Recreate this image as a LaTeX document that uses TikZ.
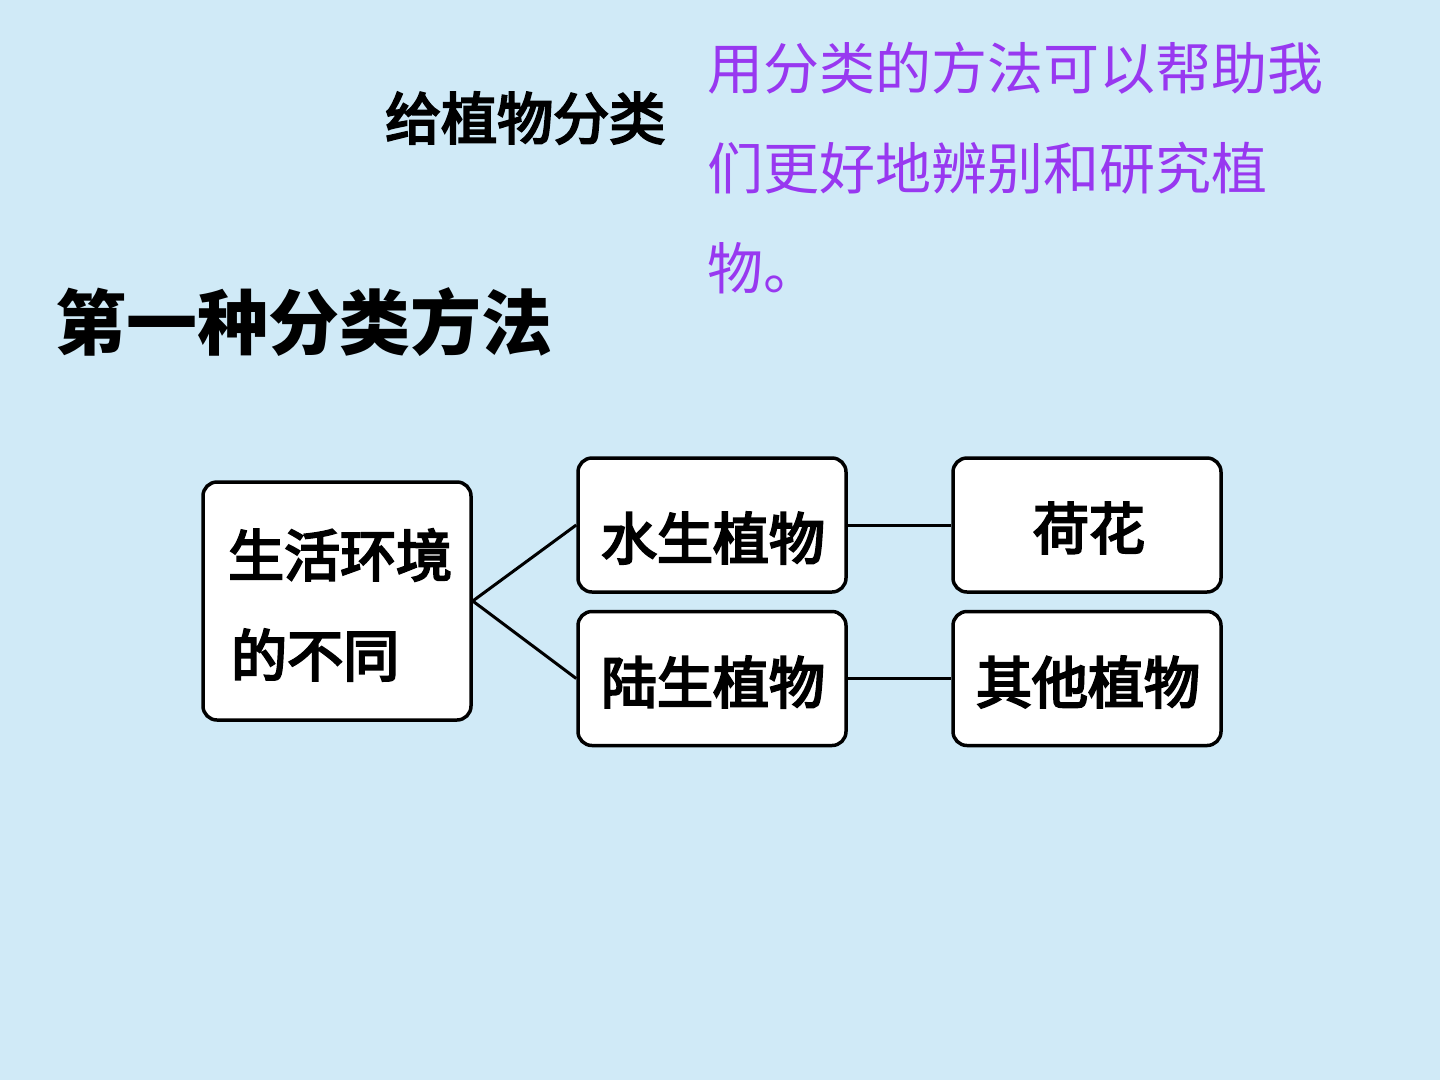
\documentclass[tikz,border=0pt]{standalone}
\usepackage{fontspec}
\setmainfont{Noto Sans CJK SC}
\newfontfamily\medfont{Noto Sans CJK SC}[FakeBold=4]
\definecolor{bgblue}{RGB}{208,234,247}
\definecolor{txtpurple}{RGB}{152,56,240}
\tikzset{
  box/.style={draw=black, line width=3.5pt, fill=white, rounded corners=14pt, inner sep=0pt, minimum width=268pt, minimum height=134pt},
  boxtext/.style={inner sep=0pt, font=\fontsize{56}{60}\medfont, text=black},
  link/.style={draw=black, line width=3pt},
  purple/.style={inner sep=0pt, anchor=west, font=\fontsize{56}{60}\selectfont, text=txtpurple}
}
\begin{document}
\begin{tikzpicture}[x=1pt,y=-1pt]
\fill[bgblue] (0,0) rectangle (1440,1080);
\useasboundingbox (0,0) rectangle (1440,1080);
% titles
\node[inner sep=0pt, anchor=west, font=\fontsize{56}{60}\medfont] (title) at (385,118) {给植物分类};
\node[purple] (p1) at (707,68) {用分类的方法可以帮助我};
\node[purple] (p2) at (707,168) {们更好地辨别和研究植};
\node[purple] (p3) at (707,268) {物。};
\node[inner sep=0pt, anchor=west, font=\fontsize{71}{76}\selectfont\bfseries] (method) at (55,322) {第一种分类方法};
% boxes
\node[box, minimum height=238pt] (env) at (337,601) {};
\node[box] (water) at (712,525) {};
\node[box] (land) at (712,678.5) {};
\node[box] (lotus) at (1087,525) {};
\node[box] (other) at (1087,678.5) {};
% texts
\node[boxtext, anchor=west] (envA) at (228,555) {生活环境};
\node[boxtext, anchor=west] (envB) at (231,655) {的不同};
\node[boxtext] (waterT) at (713,538) {水生植物};
\node[boxtext] (landT) at (713,682) {陆生植物};
\node[boxtext] (lotusT) at (1089,528) {荷花};
\node[boxtext] (otherT) at (1088,682) {其他植物};
% connectors
\draw[link] (env.east) -- (water.west);
\draw[link] (env.east) -- (land.west);
\draw[link] (water.east) -- (lotus.west);
\draw[link] (land.east) -- (other.west);
\end{tikzpicture}
\end{document}
